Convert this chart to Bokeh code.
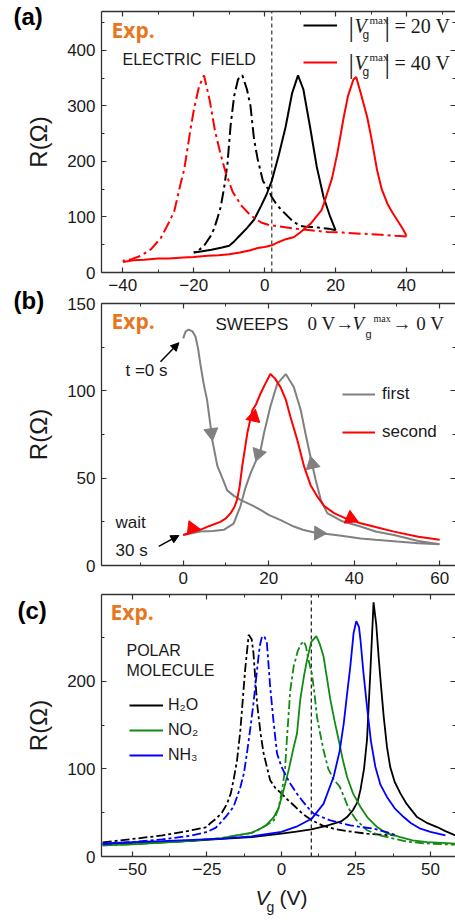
from bokeh.plotting import figure
from bokeh.models import (Range1d, LinearAxis, SingleIntervalTicker, Label,
                          Legend, LegendItem, Arrow, NormalHead)
from bokeh.core.properties import value
from bokeh.embed import file_html
from bokeh.resources import INLINE

# ---------------- data: panel (a) ----------------
a_up20_x = [-20, -18, -15, -12, -10, -8.6, -6.8, -5, -3, -1, 0.5, 2, 4, 5.9, 7.7, 9.4, 10.9, 12.8, 14.7, 16.6, 18.5, 20]
a_up20_y = [36, 38, 41, 45, 48, 56, 68, 80, 95, 120, 140, 165, 212, 262, 322, 355, 330, 262, 190, 136, 100, 76]
a_dn20_x = [20, 18, 16, 14, 12, 10, 8, 6.4, 4.5, 3, 2, 1, -0.5, -2, -3, -4, -5, -6.3, -7.5, -8.6, -9.6, -10.5, -11.5, -12.4, -13.3, -14.3, -15.2, -17.1, -19, -20]
a_dn20_y = [76, 79, 80, 82, 82, 84, 92, 102, 114, 126, 136, 150, 165, 205, 240, 300, 330, 355, 348, 318, 265, 195, 150, 118, 98, 78, 66, 48, 38, 36]
a_up40_x = [-40, -37, -34, -30, -27, -23, -20, -16, -13, -10, -7, -4, -2, 0, 2, 4, 6, 8.3, 10, 11.5, 13, 14.5, 16, 16.7, 17.5, 19, 20.5, 22.3, 23.5, 25, 25.8, 27, 28.9, 30, 31.7, 33, 34.6, 36, 37.4, 39, 40]
a_up40_y = [19, 22, 23, 25, 25, 27, 28, 30, 31, 33, 36, 40, 44, 46, 49, 55, 60, 64, 72, 80, 88, 100, 112, 124, 140, 170, 215, 280, 318, 347, 352, 325, 280, 245, 184, 150, 124, 108, 94, 78, 66]
a_dn40_x = [40, 37, 33, 27, 22, 17.7, 13, 8.3, 4, 1, -1, -4, -6.5, -9, -11, -12.5, -14, -15.5, -17.1, -18.5, -19.9, -20.8, -22.7, -23.7, -25.5, -27, -29.3, -32, -35, -37.5, -40]
a_dn40_y = [65, 66, 68, 70, 72, 73, 76, 79, 83, 86, 90, 103, 120, 145, 180, 215, 255, 310, 355, 335, 295, 262, 185, 160, 110, 90, 62, 42, 30, 24, 21]
a_dirac = 2

# ---------------- data: panel (b) ----------------
b_first_x = [0, 0.6, 1.3, 2.2, 2.9, 3.5, 4, 4.8, 5.6, 6.4, 6.8, 8, 9.5, 10.3, 11.8, 13.4, 16.5, 18.1, 20, 22.8, 25.9, 28,
             31.4, 33.7, 37, 41.5, 45, 50, 55, 60,
             55, 49.3, 45, 41.5, 37, 33.7, 32.2, 31, 29.8, 28.6, 27.5, 25.9, 24, 22, 20.4, 18.9, 18.1, 15.8,
             14.5, 13.4, 11.8, 9.5, 7, 4, 2, 0]
b_first_y = [130, 134, 135, 134, 131, 124, 115.7, 104, 94.7, 80, 72, 57, 48, 43, 40, 37.6, 34, 31.8, 29, 26, 22.3, 20.5,
             18.5, 18, 17, 15.5, 14.7, 13.7, 12.8, 12.2,
             14, 17.5, 19.5, 22.3, 25.5, 30, 37.6, 49, 62, 75.7, 89, 102, 109.6, 104, 91, 75.7, 66, 53,
             44, 34, 24, 20.4, 19.8, 19.4, 18.5, 17.5]
b_second_x = [0, 2, 4, 6, 8.7, 10, 11.1, 12, 12.6, 13.2, 13.8, 14.4, 15, 16.2, 17, 18.1, 19.2, 20.4, 21.5, 22.8, 24, 25.1,
              26.7, 28.3, 29.8, 31.4, 33, 35.3, 38, 41.5, 45, 49.3, 55, 60]
b_second_y = [17.5, 19, 20.4, 22.5, 25, 27, 30, 33.5, 37.6, 45, 56.6, 66, 75.7, 89, 92, 98.5, 104, 109.6, 107, 102, 95, 85,
              71.9, 56.6, 46, 39.4, 34, 30, 27, 24.2, 22, 19.4, 16.5, 14.7]
b_head_grey_x = [6.6, 31.7, 30.2, 17.6]
b_head_grey_y = [76, 18.5, 58, 64]
b_head_grey_ang = [-3.01, -1.6, 0.22, 2.81]
b_head_red_x = [16.5, 2.1, 39.2]
b_head_red_y = [85, 21.4, 27]
b_head_red_ang = [-0.21, 2.5, -1.99]
b_note_x0 = [-5.3, -5.7]
b_note_y0 = [116.6, 10.9]
b_note_x1 = [-1.0, -1.0]
b_note_y1 = [127.5, 17.2]

# ---------------- data: panel (c) ----------------
c_h2o_x = [-60, -50, -40, -30, -20, -10, 0, 5, 10, 15, 20, 22, 24, 25.5, 26.5, 27.7, 28.7, 29.8, 30.9, 31.8, 32.6, 33.4,
           34.3, 35.4, 36.5, 38, 39.9, 42, 45.5, 49, 52.2, 55, 58.4]
c_h2o_y = [14, 15, 16.5, 18, 20, 22, 26, 28.5, 31, 35, 40, 45, 53, 62, 76, 100, 133, 209, 290, 265, 228, 195,
           160, 125, 102, 85, 72, 60, 45, 38, 33.6, 29, 24]
c_h2o_r_x = [-60, -55, -50, -45, -40, -35, -30, -25, -23.9, -22, -20, -18.3, -17, -16.1, -14.9, -13.8, -12.2, -11, -10,
             -9.4, -8.2, -7, -6, -3.8, -2, 0, 2, 4.1, 7, 10.2, 14, 17.5, 22, 28.7, 33, 38]
c_h2o_r_y = [16, 18, 20, 22, 24, 27, 30, 33.6, 38, 43, 50, 60, 72, 87, 110, 144, 213, 253, 248,
             232, 175, 140, 117.7, 87, 78, 72, 65, 58.5, 49, 41.3, 35, 31.7, 29, 26, 25, 24]
c_nh3_x = [-60, -50, -40, -30, -20, -10, 0, 5, 10.1, 14.1, 17.5, 19.5, 20.9, 22, 23.1, 24.2, 25.1, 26, 26.5, 27.5, 28.7,
           30, 31.5, 33.2, 35.4, 38, 41, 43.5, 46.6, 50, 55]
c_nh3_y = [15, 16.4, 17.5, 19, 20.5, 23, 28, 34, 43, 60, 91, 120, 152, 185, 217, 255, 268.6, 262, 247.6, 210, 171,
           132, 102.4, 82, 68, 55, 45, 38, 31.7, 28, 24]
c_nh3_r_x = [-60, -50, -40, -30, -25, -22, -20.6, -18.3, -16.1, -13.8, -12.6, -11.6, -10.5, -9.4, -8.2, -7.3, -6.5, -5.6,
             -4.9, -3.8, -2.7, -1.5, 0, 1.5, 3, 4.9, 6.9, 8.8, 10.8, 13.5, 16.4, 20, 23.1, 27, 31, 35, 38.8]
c_nh3_r_y = [14, 16.5, 19.5, 24, 28, 33, 38, 47, 56.6, 79, 95, 117.7, 145, 175, 213, 240, 251.4, 250,
             243.8, 194, 155, 117.7, 102.4, 92, 83, 73, 64, 56, 49, 45, 41.3, 38, 35.5, 33.5, 31.7, 28, 24]
c_no2_x = [-60, -50, -40, -30, -20, -15, -10, -7.1, -5, -2.6, -1, 0.7, 2.5, 4.1, 5.2, 6.3, 7.5, 8.6, 10, 11.7, 12.9,
           14.1, 15.2, 16.4, 17.8, 19.2, 20.6, 22, 24, 26.5, 29, 32.1, 35, 39.9, 44, 48.9, 54, 58.4]
c_no2_y = [12.6, 14, 16, 18, 21, 24, 27, 31.7, 36, 45, 55, 75.7, 100, 125, 140, 179, 205, 224.7, 245, 251.4, 242,
           228.5, 205, 179, 155, 133, 110, 91, 72, 56.6, 44, 33.6, 27, 22, 18.5, 16.4, 15.5, 14.6]
c_no2_r_x = [-60, -50, -40, -30, -20, -15, -10, -7.1, -5, -2.6, -1, 0.2, 1.2, 1.8, 2.96, 4.1, 5.5, 6.5, 7.4, 8.2, 9,
             10.2, 11.1, 11.9, 13, 14.1, 15.7, 17.5, 19.5, 21, 22.5, 25, 28.7, 33, 37.7, 42, 48, 54, 58.4]
c_no2_r_y = [12.6, 14, 16, 18, 21, 24, 27, 31.7, 36, 41, 55, 75.7, 100, 133, 190, 217, 235, 242, 245.7, 240, 225,
             209, 185, 159.7, 140, 121.5, 100, 88, 80, 68, 55, 42, 30, 24, 20.3, 17, 15, 14, 13.5]
c_neutral = 10

# ---------------- layout (page pixels) ----------------
W, H = 455, 920
FONT = "Liberation Sans"
SERIF = "Liberation Serif"
AXC = "#333333"
ORANGE = "#E8761E"
PANELS = {
    "a": dict(L=101, R=455, T=11, B=272, x=(-46, 53.8), y=(0, 470), xint=20, yint=100),
    "b": dict(L=101, R=455, T=303, B=565, x=(-19.1, 63.7), y=(0, 150), xint=20, yint=50),
    "c": dict(L=101, R=455, T=594, B=856, x=(-60.4, 58.4), y=(0, 299), xint=25, yint=100),
}


def lin(d0, d1, p0, p1, q):
    return d0 + (q - p0) * (d1 - d0) / (p1 - p0)


p = figure(output_backend="svg", toolbar_location=None,
           frame_width=W, frame_height=H, min_border=0,
           x_range=Range1d(0, W), y_range=Range1d(H, 0),
           x_axis_type=None, y_axis_type=None, outline_line_color=None)

for k, P in PANELS.items():
    x0, x1 = P["x"]
    y0, y1 = P["y"]
    p.extra_x_ranges[k + "x"] = Range1d(lin(x0, x1, P["L"], P["R"], 0), lin(x0, x1, P["L"], P["R"], W))
    p.extra_y_ranges[k + "y"] = Range1d(lin(y0, y1, P["B"], P["T"], H), lin(y0, y1, P["B"], P["T"], 0))


def style_axis(ax, labels):
    ax.axis_line_color = AXC
    ax.axis_line_width = 1.3
    ax.major_tick_in = 5
    ax.major_tick_out = 0
    ax.minor_tick_in = 3
    ax.minor_tick_out = 0
    ax.major_tick_line_color = AXC
    ax.minor_tick_line_color = AXC
    ax.major_tick_line_width = 1.2
    ax.minor_tick_line_width = 1.0
    if labels:
        ax.major_label_standoff = 6
        ax.major_label_text_font = FONT
        ax.major_label_text_font_size = "17px"
        ax.major_label_text_color = "#1a1a1a"
    else:
        ax.major_label_standoff = 0
        ax.major_label_text_font_size = "1px"
        ax.major_label_text_color = None


for k, P in PANELS.items():
    x0, x1 = P["x"]
    y0, y1 = P["y"]
    for side, fixed, labels in (("below", y0, True), ("above", y1, False)):
        ax = LinearAxis(x_range_name=k + "x", y_range_name=k + "y", fixed_location=fixed,
                        bounds=(x0, x1),
                        ticker=SingleIntervalTicker(interval=P["xint"], num_minor_ticks=2))
        style_axis(ax, labels)
        p.add_layout(ax, side)
    for side, fixed, labels in (("left", x0, True), ("right", x1, False)):
        ax = LinearAxis(x_range_name=k + "x", y_range_name=k + "y", fixed_location=fixed,
                        bounds=(y0, y1),
                        ticker=SingleIntervalTicker(interval=P["yint"], num_minor_ticks=2))
        style_axis(ax, labels)
        if side == "right":
            ax.axis_line_color = None
        else:
            ax.axis_label = "R(Ω)"
            ax.axis_label_text_font = FONT
            ax.axis_label_text_font_size = "24px"
            ax.axis_label_text_font_style = "normal"
            ax.axis_label_text_color = "#1a1a1a"
            ax.axis_label_standoff = 12
        p.add_layout(ax, side)


def txt(px, py, text, size, font=FONT, style="normal", color="#1a1a1a"):
    p.add_layout(Label(x=px, y=py, text=text, text_font=font, text_font_size=size,
                       text_font_style=style, text_color=color,
                       text_align="left", text_baseline="middle"))


def legend(items, left, bottom, gw, spacing, size, standoff):
    return Legend(items=items, location=(left, H - bottom), orientation="vertical",
                  glyph_width=gw, glyph_height=20, label_height=20, spacing=spacing,
                  padding=0, margin=0, border_line_color=None, background_fill_alpha=0,
                  label_text_font=FONT, label_text_font_size=size,
                  label_text_color="#1a1a1a", label_standoff=standoff)


DD_A = "12 4 3 4"
DD_C = "9 3 3 3"

# ---------------- panel (a) ----------------
A = dict(x_range_name="ax", y_range_name="ay")
p.segment(x0=a_dirac, y0=PANELS["a"]["y"][0], x1=a_dirac, y1=PANELS["a"]["y"][1],
          line_color="#444444", line_dash="4 3", line_width=1.3, **A)
ra1 = p.line(a_up20_x, a_up20_y, line_color="black", line_width=2, **A)
p.line(a_dn20_x, a_dn20_y, line_color="black", line_width=2, line_dash=DD_A, **A)
ra2 = p.line(a_up40_x, a_up40_y, line_color="red", line_width=2, **A)
p.line(a_dn40_x, a_dn40_y, line_color="red", line_width=2, line_dash=DD_A, **A)
p.add_layout(legend([LegendItem(label=value(" "), renderers=[ra1]),
                     LegendItem(label=value(" "), renderers=[ra2])],
                    303, 72, 34, 17, "8px", 0))
txt(13, 16, "(a)", "24px", style="bold", color="black")
txt(111, 29, "Exp.", "21px", font="Open Sans", style="bold", color=ORANGE)
txt(122, 59, "ELECTRIC\u00a0\u00a0FIELD", "16px")
for cy, val in ((25, "= 20 V"), (62, "= 40 V")):
    txt(348, cy + 1, "|", "27px", font=SERIF)
    txt(354, cy, "V", "20px", font=SERIF, style="italic")
    txt(362, cy + 9, "g", "12px")
    txt(369, cy - 6, "max", "11px", font=SERIF)
    txt(384, cy + 1, "|", "27px", font=SERIF)
    txt(394, cy, val, "20px", font=SERIF)

# ---------------- panel (b) ----------------
B = dict(x_range_name="bx", y_range_name="by")
rb1 = p.line(b_first_x, b_first_y, line_color="#808080", line_width=2, **B)
rb2 = p.line(b_second_x, b_second_y, line_color="red", line_width=2, **B)
p.scatter(b_head_grey_x, b_head_grey_y, angle=b_head_grey_ang, marker="triangle", size=14,
          fill_color="#808080", line_color="#808080", **B)
p.scatter(b_head_red_x, b_head_red_y, angle=b_head_red_ang, marker="triangle", size=14,
          fill_color="red", line_color="red", **B)
for i in range(len(b_note_x0)):
    p.add_layout(Arrow(x_start=b_note_x0[i], y_start=b_note_y0[i], x_end=b_note_x1[i], y_end=b_note_y1[i],
                       line_color="black", line_width=1.5,
                       end=NormalHead(size=8, fill_color="black", line_color="black"), **B))
p.add_layout(legend([LegendItem(label=value("first"), renderers=[rb1]),
                     LegendItem(label=value("second"), renderers=[rb2])],
                    342, 442, 33, 18, "17px", 7))
txt(13, 300, "(b)", "24px", style="bold", color="black")
txt(111, 320, "Exp.", "21px", font="Open Sans", style="bold", color=ORANGE)
txt(215, 324, "SWEEPS", "17px")
txt(307, 323, "0 V\u2192", "19px", font=SERIF)
txt(352, 323, "V", "19px", font=SERIF, style="italic")
txt(365, 333, "g", "11px")
txt(373, 318, "max", "10px", font=SERIF)
txt(392, 323, "\u2192 0 V", "19px", font=SERIF)
txt(125, 370, "t =0 s", "17px")
txt(115, 522, "wait", "17px")
txt(115, 550, "30 s", "17px")

# ---------------- panel (c) ----------------
C = dict(x_range_name="cx", y_range_name="cy")
p.segment(x0=c_neutral, y0=PANELS["c"]["y"][0], x1=c_neutral, y1=PANELS["c"]["y"][1],
          line_color="black", line_dash="4 3", line_width=1.1, **C)
rc1 = p.line(c_h2o_x, c_h2o_y, line_color="black", line_width=1.8, **C)
p.line(c_h2o_r_x, c_h2o_r_y, line_color="black", line_width=1.8, line_dash=DD_C, **C)
rc2 = p.line(c_no2_x, c_no2_y, line_color="#138A13", line_width=1.8, **C)
p.line(c_no2_r_x, c_no2_r_y, line_color="#138A13", line_width=1.8, line_dash=DD_C, **C)
rc3 = p.line(c_nh3_x, c_nh3_y, line_color="blue", line_width=1.8, **C)
p.line(c_nh3_r_x, c_nh3_r_y, line_color="blue", line_width=1.8, line_dash=DD_C, **C)
p.add_layout(legend([LegendItem(label=value("H\u2082O"), renderers=[rc1]),
                     LegendItem(label=value("NO\u2082"), renderers=[rc2]),
                     LegendItem(label=value("NH\u2083"), renderers=[rc3])],
                    129, 765, 34, 5, "16px", 5))
txt(17, 610, "(c)", "24px", style="bold", color="black")
txt(110, 611, "Exp.", "21px", font="Open Sans", style="bold", color=ORANGE)
txt(126, 650, "POLAR", "16px")
txt(126, 670, "MOLECULE", "16px")
txt(255, 897, "V", "21px", style="italic")
txt(266, 906, "g", "14px")
txt(279, 897, "(V)", "21px")

open("out.html", "w").write(file_html(p, INLINE))
